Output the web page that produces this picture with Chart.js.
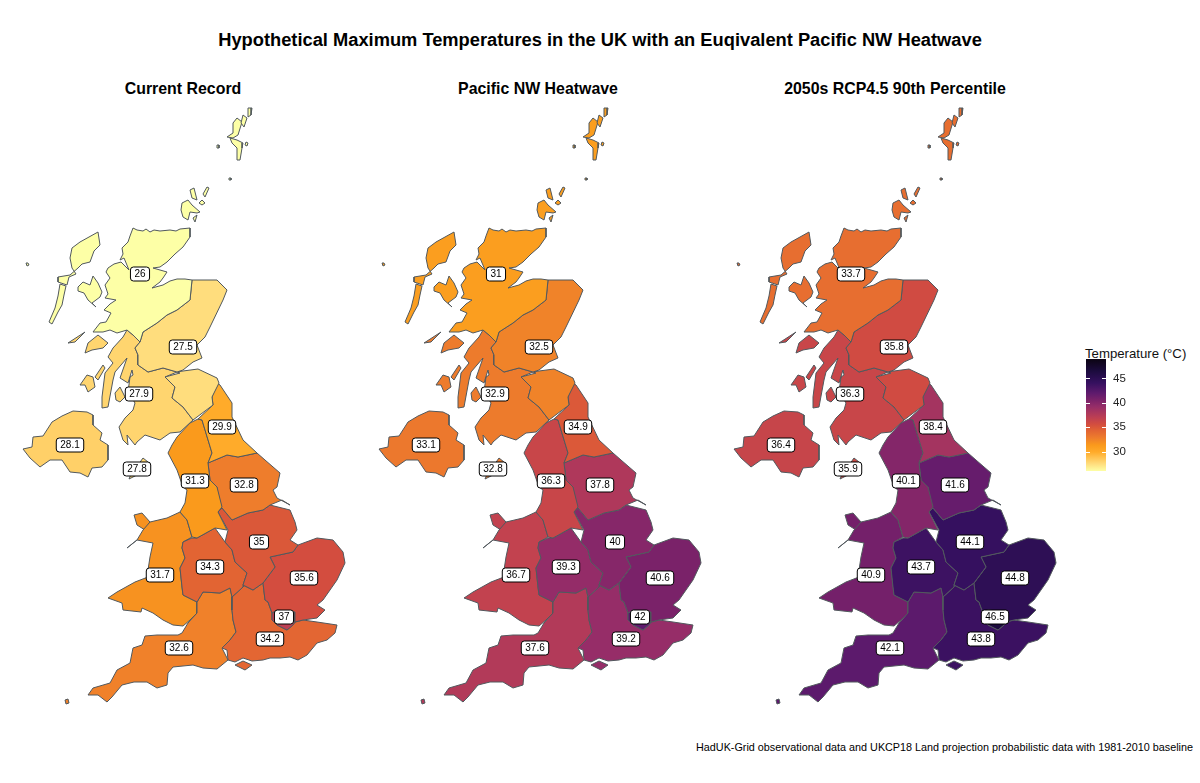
<!DOCTYPE html>
<html>
<head>
<meta charset="utf-8">
<title>UK heatwave map</title>
<script src="https://cdn.jsdelivr.net/npm/chart.js@4/dist/chart.umd.min.js"></script>
<style>
html,body{margin:0;padding:0;background:#fff;width:1200px;height:783px;overflow:hidden;font-family:"Liberation Sans",Arial,sans-serif}
canvas{position:absolute;top:0}
.txt{position:absolute;white-space:nowrap;color:#000}
#title{left:0;width:1200px;text-align:center;top:29px;font-size:18.3px;font-weight:bold}
.panel{top:80px;width:356px;text-align:center;font-size:15.9px;font-weight:bold}
#caption{right:7px;top:741px;font-size:10.8px}
#legendtitle{left:1085px;top:346px;font-size:13.2px;color:#111}
</style>
</head>
<body>
<div class="txt" id="title">Hypothetical Maximum Temperatures in the UK with an Euqivalent Pacific NW Heatwave</div>
<div class="txt panel" style="left:5px">Current Record</div>
<div class="txt panel" style="left:360px">Pacific NW Heatwave</div>
<div class="txt panel" style="left:717px">2050s RCP4.5 90th Percentile</div>
<div class="txt" id="caption">HadUK-Grid observational data and UKCP18 Land projection probabilistic data with 1981-2010 baseline</div>
<div class="txt" id="legendtitle">Temperature (°C)</div>
<canvas id="map0" width="356" height="783" style="left:0"></canvas>
<canvas id="map1" width="356" height="783" style="left:356px"></canvas>
<canvas id="map2" width="356" height="783" style="left:711px"></canvas>
<canvas id="scale" width="70" height="140" style="left:1080px;top:345px"></canvas>
<script>
// temperatures by region, same order as regionNames
var regionNames = ['N Scotland','E Scotland','W Scotland','N Ireland','Isle of Man','NE England','NW England','Yorkshire','E Midlands','W Midlands','East','London','SE England','SW England','Wales'];
var currentRecord = [26,27.5,27.9,28.1,27.8,29.9,31.3,32.8,35,34.3,35.6,37,34.2,32.6,31.7];
var pacificHeatwave = [31,32.5,32.9,33.1,32.8,34.9,36.3,37.8,40,39.3,40.6,42,39.2,37.6,36.7];
var rcp45Percentile = [33.7,35.8,36.3,36.4,35.9,38.4,40.1,41.6,44.1,43.7,44.8,46.5,43.8,42.1,40.9];
var labelX = [140,183,139,70,137,222,195,244,259,210,304,284,270,179,160];
var labelY = [274,347,394,445,469,427,481,485,542,567,578,617,639,648,575];
var legendTicks = [30,35,40,45];
var legendRange = [26,49];

// outlines in map units
var nScotMain = [[133,228],[137,230],[143,231],[146,229],[150,232],[154,230],[160,231],[170,230],[176,231],[180,229],[190,228],[190,237],[183,247],[175,254],[167,262],[160,267],[153,268],[167,272],[163,278],[160,282],[152,288],[163,285],[170,281],[177,279],[185,279],[192,280],[191,290],[190,300],[177,310],[167,315],[157,323],[143,332],[140,342],[133,335],[127,330],[117,333],[110,330],[103,332],[93,332],[100,323],[106,322],[111,313],[104,310],[110,304],[116,300],[105,298],[108,294],[105,285],[110,278],[106,272],[108,268],[114,264],[121,262],[129,270],[124,258],[120,260],[123,254],[122,248],[128,242],[130,236]];
var skye = [[78,287],[83,282],[90,285],[93,276],[98,283],[102,292],[100,297],[92,303],[96,307],[88,300],[84,293],[78,291]];
var lewis = [[98,232],[100,245],[94,251],[90,262],[82,264],[78,268],[70,275],[58,277],[58,282],[67,285],[69,277],[76,274],[72,268],[70,258],[72,248],[80,242]];
var uist = [[60,284],[66,286],[64,295],[62,305],[58,312],[52,324],[49,322],[55,308],[58,296]];
var orkneyMain = [[182,203],[188,200],[192,205],[200,212],[197,213],[190,212],[188,220],[183,217],[181,210]];
var orkneyNorth = [[190,190],[194,188],[197,200],[192,198]];
var orkneyEast = [[207,187],[209,188],[205,197],[203,194]];
var orkneyShapinsay = [[202,200],[205,203],[202,205],[199,203]];
var orkneySouth = [[193,218],[197,215],[195,222]];
var unst = [[248,108],[252,108],[251,115],[248,117]];
var yell = [[243,115],[247,118],[244,127],[241,123]];
var shetNorth = [[237,118],[242,122],[238,135],[233,138],[227,137],[233,133],[233,123]];
var shetSouth = [[230,138],[237,140],[243,143],[242,148],[240,160],[237,160],[237,148],[232,143]];
var whalsay = [[246,142],[248,143],[247,146],[245,145]];
var foula = [[217,145],[219,145],[219,148],[217,148]];
var fairIsle = [[229,178],[231,178],[231,180],[229,180]];
var stKilda = [[26,263],[28,263],[29,265],[27,266]];
var wScotMain = [[140,342],[135,348],[138,355],[138,365],[148,372],[163,368],[177,372],[165,377],[175,387],[172,398],[183,407],[193,420],[180,432],[170,433],[160,440],[145,435],[137,442],[135,445],[127,435],[128,445],[123,440],[119,427],[125,418],[133,410],[135,403],[128,392],[130,377],[133,375],[132,370],[128,383],[120,378],[127,358],[115,372],[113,380],[108,407],[102,408],[102,397],[105,373],[113,363],[108,357],[113,348],[123,337],[127,330],[133,335]];
var mull = [[88,343],[98,335],[108,343],[103,348],[92,350],[85,353]];
var jura = [[95,377],[103,365],[105,368],[98,380]];
var islay = [[80,385],[87,375],[93,377],[95,387],[88,392],[85,385]];
var coll = [[68,343],[85,332],[75,342]];
var arran = [[115,393],[120,387],[125,397],[120,402],[116,400]];
var eScotMain = [[192,280],[205,280],[217,280],[225,288],[227,290],[223,300],[210,327],[205,337],[197,345],[202,358],[193,362],[183,370],[177,372],[163,368],[148,372],[138,365],[138,355],[135,348],[140,342],[143,332],[157,323],[167,315],[177,310],[190,300],[191,290]];
var borders = [[165,377],[180,373],[177,372],[183,371],[198,369],[217,378],[219,383],[212,397],[213,405],[193,420],[183,407],[172,398],[175,387]];
var nIreland = [[23,449],[32,447],[33,437],[43,436],[52,422],[62,416],[73,411],[87,412],[93,415],[93,425],[102,433],[100,440],[108,445],[108,460],[102,467],[92,468],[88,477],[80,473],[70,472],[62,460],[50,460],[40,467],[30,458]];
var isleOfMan = [[143,458],[148,462],[145,470],[135,476],[129,479],[132,472],[138,465]];
var neEngland = [[217,383],[212,397],[213,405],[198,419],[202,420],[212,453],[208,463],[227,455],[238,457],[257,453],[243,440],[232,417],[232,403],[220,385]];
var nwEngland = [[198,419],[190,423],[177,437],[172,445],[168,453],[177,470],[183,487],[187,490],[185,503],[180,512],[187,520],[192,537],[197,538],[215,528],[227,530],[218,512],[222,507],[217,487],[210,480],[208,463],[212,453],[202,420]];
var yorkshire = [[208,463],[227,455],[238,457],[257,453],[265,460],[280,473],[277,487],[273,490],[277,498],[290,505],[282,500],[270,505],[263,510],[248,513],[232,520],[222,508],[218,512],[217,487],[210,480]];
var eMidlands = [[222,508],[232,520],[248,513],[263,510],[270,505],[290,510],[295,522],[297,530],[290,540],[298,545],[293,552],[270,557],[275,567],[263,583],[253,590],[243,585],[247,573],[235,562],[232,550],[225,542],[228,530],[218,512]];
var wMidlands = [[225,542],[215,528],[197,538],[192,538],[183,542],[182,548],[185,558],[180,568],[182,587],[183,595],[197,602],[203,592],[220,593],[230,588],[232,597],[243,587],[243,585],[247,573],[235,562],[232,550]];
var eastEngland = [[298,545],[317,538],[333,540],[343,552],[345,563],[337,580],[330,590],[323,600],[317,605],[325,610],[317,618],[303,620],[295,622],[295,612],[277,610],[272,613],[268,602],[265,600],[263,583],[275,567],[270,557],[293,552]];
var london = [[272,613],[277,610],[295,612],[295,622],[293,625],[287,630],[277,625],[272,620]];
var seEngland = [[243,587],[232,597],[232,610],[233,620],[236,632],[230,640],[222,648],[227,650],[228,660],[235,662],[243,658],[252,661],[263,660],[270,658],[280,658],[290,657],[298,660],[307,655],[317,643],[327,640],[335,633],[337,625],[317,622],[303,620],[295,622],[293,625],[287,630],[277,625],[272,620],[272,613],[268,602],[265,600],[263,583],[253,590],[243,585]];
var wight = [[235,665],[243,661],[252,665],[245,670]];
var swEngland = [[197,602],[203,592],[220,593],[230,588],[232,597],[232,610],[233,620],[236,632],[230,640],[222,648],[228,660],[217,669],[203,668],[193,665],[173,667],[168,673],[167,685],[157,688],[147,682],[134,682],[122,685],[112,697],[107,702],[98,695],[88,695],[93,688],[110,683],[117,670],[130,663],[133,648],[142,645],[145,636],[157,635],[178,635],[182,633],[188,623],[197,613]];
var scilly = [[65,700],[68,699],[69,703],[66,704]];
var wales = [[150,522],[167,518],[180,512],[187,520],[192,537],[183,542],[182,548],[185,558],[180,568],[182,587],[183,595],[197,602],[197,613],[190,620],[183,626],[173,625],[163,620],[153,613],[142,608],[141,612],[123,610],[122,603],[108,598],[117,592],[135,582],[148,577],[148,570],[150,557],[153,543],[137,540],[127,548],[137,540],[143,530]];
var anglesey = [[134,515],[142,513],[150,522],[145,530],[137,525]];

var rings = [
  [0,nScotMain],[0,skye],[0,lewis],[0,uist],[0,orkneyMain],[0,orkneyNorth],[0,orkneyEast],[0,orkneyShapinsay],[0,orkneySouth],
  [0,unst],[0,yell],[0,shetNorth],[0,shetSouth],[0,whalsay],[0,foula],[0,fairIsle],[0,stKilda],
  [1,eScotMain],[1,borders],
  [2,wScotMain],[2,mull],[2,jura],[2,islay],[2,coll],[2,arran],
  [3,nIreland],[4,isleOfMan],[5,neEngland],[6,nwEngland],[7,yorkshire],[8,eMidlands],[9,wMidlands],
  [10,eastEngland],[11,london],[12,seEngland],[12,wight],[13,swEngland],[13,scilly],[14,wales],[14,anglesey]
];

// fill colours
var stopTemps = [26,27.5,29.9,31.3,32.8,34.3,35.6,37,39.2,40.6,42,44.1,46.5,49];
var stopCols = ['#fdffa6','#ffdd7d','#ffab2a','#fa9a1c','#ee7d2c','#e26433','#d34d3f','#bd3f53','#962d68','#7a2269','#5e1a6d','#35105f','#1c0b3e','#0b0412'];

function hexRgb(h){
  return [parseInt(h.substr(1,2),16),parseInt(h.substr(3,2),16),parseInt(h.substr(5,2),16)];
}
function tempColor(t){
  for (var i = 0; i < stopTemps.length-1; i++) {
    if (t <= stopTemps[i+1]) {
      var f = (t-stopTemps[i])/(stopTemps[i+1]-stopTemps[i]);
      var a = hexRgb(stopCols[i]), b = hexRgb(stopCols[i+1]);
      return 'rgb('+Math.round(a[0]+(b[0]-a[0])*f)+','+Math.round(a[1]+(b[1]-a[1])*f)+','+Math.round(a[2]+(b[2]-a[2])*f)+')';
    }
  }
  return stopCols[stopCols.length-1];
}

function drawMap(id, values){
  var datasets = rings.map(function(r){
    var pts = r[1].concat([r[1][0]]).map(function(p){ return {x:p[0],y:p[1]}; });
    return {
      data: pts,
      showLine: true,
      fill: 'shape',
      backgroundColor: tempColor(values[r[0]]),
      borderColor: '#51585d',
      borderWidth: 1,
      pointRadius: 0,
      tension: 0
    };
  });
  var valueLabels = {
    id: 'valueLabels',
    afterDatasetsDraw: function(chart){
      var c = chart.ctx;
      c.save();
      c.font = '10px "Liberation Sans"';
      c.textAlign = 'center';
      c.textBaseline = 'middle';
      values.forEach(function(v,i){
        var px = chart.scales.x.getPixelForValue(labelX[i]);
        var py = chart.scales.y.getPixelForValue(labelY[i]);
        var txt = String(v);
        var w = c.measureText(txt).width+8;
        c.beginPath();
        c.roundRect(px-w/2,py-7,w,14,3);
        c.fillStyle = '#fff';
        c.fill();
        c.strokeStyle = '#000';
        c.lineWidth = 1;
        c.stroke();
        c.fillStyle = '#000';
        c.fillText(txt,px,py+0.5);
      });
      c.restore();
    }
  };
  return new Chart(document.getElementById(id), {
    type: 'scatter',
    data: {datasets: datasets},
    plugins: [valueLabels],
    options: {
      responsive: false,
      animation: false,
      events: [],
      layout: {padding: 0},
      plugins: {legend:{display:false}, tooltip:{enabled:false}, title:{display:false}},
      scales: {
        x: {type:'linear', display:false, min:0, max:356},
        y: {type:'linear', display:false, min:0, max:783, reverse:true}
      }
    }
  });
}

drawMap('map0', currentRecord);
drawMap('map1', pacificHeatwave);
drawMap('map2', rcp45Percentile);

// colour bar
var barTicks = {
  id: 'barTicks',
  afterDatasetsDraw: function(chart){
    var c = chart.ctx, a = chart.chartArea;
    c.save();
    c.strokeStyle = '#fff';
    c.lineWidth = 1;
    legendTicks.forEach(function(v){
      var y = Math.round(chart.scales.y.getPixelForValue(v))+0.5;
      c.beginPath();
      c.moveTo(a.left,y); c.lineTo(a.left+4,y);
      c.moveTo(a.right-4,y); c.lineTo(a.right,y);
      c.stroke();
    });
    c.restore();
  }
};
new Chart(document.getElementById('scale'), {
  type: 'bar',
  data: {
    labels: ['Temperature'],
    datasets: [{
      data: [legendRange],
      barPercentage: 1,
      categoryPercentage: 1,
      backgroundColor: function(ctx){
        var a = ctx.chart.chartArea;
        if (!a) return '#999';
        var g = ctx.chart.ctx.createLinearGradient(0,a.bottom,0,a.top);
        stopTemps.forEach(function(t,i){
          g.addColorStop((t-legendRange[0])/(legendRange[1]-legendRange[0]), stopCols[i]);
        });
        return g;
      }
    }]
  },
  plugins: [barTicks],
  options: {
    responsive: false,
    animation: false,
    events: [],
    layout: {padding: {left:6, top:13, bottom:11}},
    plugins: {legend:{display:false}, tooltip:{enabled:false}},
    scales: {
      x: {display:false},
      y: {
        position: 'right',
        min: legendRange[0],
        max: legendRange[1],
        border: {display:false},
        grid: {display:false, drawTicks:false},
        afterBuildTicks: function(s){ s.ticks = legendTicks.map(function(v){ return {value:v}; }); },
        afterFit: function(s){ s.width = 44; },
        ticks: {padding:7, color:'#222', font:{family:'"Liberation Sans"', size:11.5}}
      }
    }
  }
});
</script>
</body>
</html>
